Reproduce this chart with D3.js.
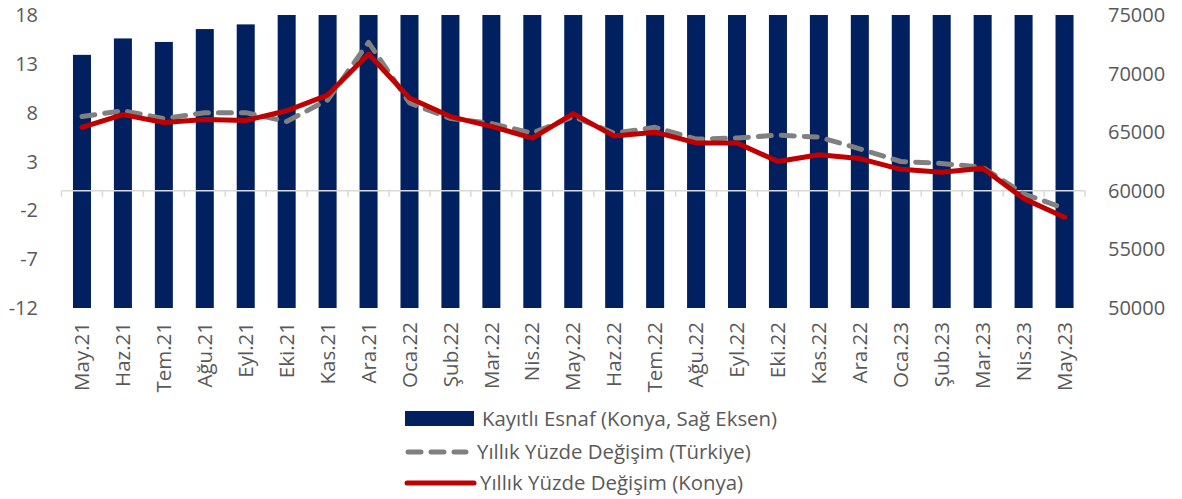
<!DOCTYPE html>
<html>
<head>
<meta charset="utf-8">
<script src="https://cdn.jsdelivr.net/npm/d3@7"></script>
<style>
  body { margin: 0; background: #fff; }
  text { font-family: "Open Sans", sans-serif; fill: #595959; }
</style>
</head>
<body>
<div id="chart"></div>
<script>
const months = ["May.21","Haz.21","Tem.21","Ağu.21","Eyl.21","Eki.21","Kas.21","Ara.21",
    "Oca.22","Şub.22","Mar.22","Nis.22","May.22","Haz.22","Tem.22","Ağu.22","Eyl.22",
    "Eki.22","Kas.22","Ara.22","Oca.23","Şub.23","Mar.23","Nis.23","May.23"];

// Kayıtlı esnaf (Konya) - right axis, values over 75000 are cut by the axis max
const esnaf = [71600, 73000, 72700, 73800, 74200, 75400, 75900, 76300,
    76600, 76900, 77200, 77500, 77800, 78000, 78300, 78500, 78700,
    78900, 79100, 79300, 79500, 79700, 79900, 80100, 80300];

const turkiye = [7.6, 8.2, 7.4, 8.0, 8.0, 7.1, 9.3, 15.2,
    9.0, 7.4, 6.9, 5.9, 7.6, 5.9, 6.5, 5.3, 5.4,
    5.7, 5.5, 4.3, 3.0, 2.8, 2.4, -0.3, -1.8];

const konya = [6.5, 7.8, 7.0, 7.3, 7.2, 8.2, 9.8, 14.0,
    9.5, 7.6, 6.6, 5.4, 7.9, 5.6, 6.0, 4.9, 4.9,
    3.0, 3.7, 3.3, 2.2, 1.9, 2.3, -0.8, -2.7];

const leftTicks = [18, 13, 8, 3, -2, -7, -12];
const rightTicks = [75000, 70000, 65000, 60000, 55000, 50000];

const width = 1182, height = 499;
const margin = {top: 15, right: 97, bottom: 191, left: 61.5};

const svg = d3.select("#chart").append("svg")
    .attr("width", width)
    .attr("height", height);

const x = d3.scaleBand()
    .domain(months)
    .range([margin.left, width - margin.right])
    .paddingInner(0.56)
    .paddingOuter(0.28);

const yL = d3.scaleLinear().domain([-12, 18]).range([height - margin.bottom, margin.top]);
const yR = d3.scaleLinear().domain([50000, 75000]).range([height - margin.bottom, margin.top]);

svg.append("clipPath").attr("id", "plot")
    .append("rect")
    .attr("x", margin.left).attr("y", margin.top)
    .attr("width", width - margin.right - margin.left)
    .attr("height", height - margin.bottom - margin.top);

// bars
svg.append("g")
    .attr("clip-path", "url(#plot)")
    .selectAll("rect")
    .data(esnaf)
    .enter()
    .append("rect")
    .attr("x", (d, i) => x(months[i]))
    .attr("y", d => yR(d))
    .attr("width", x.bandwidth())
    .attr("height", d => yR(50000) - yR(d))
    .attr("fill", "#002060");

// zero axis with category ticks
const x0 = margin.left, x1 = width - margin.right;
const zeroY = yL(0);
const axis = svg.append("g");
axis.append("line")
    .attr("x1", x0).attr("x2", x1)
    .attr("y1", zeroY).attr("y2", zeroY)
    .attr("stroke", "#d9d9d9").attr("stroke-width", 1.5);
axis.selectAll(".tk")
    .data(d3.range(months.length + 1))
    .enter()
    .append("line")
    .attr("x1", i => x0 + i * (x1 - x0) / months.length)
    .attr("x2", i => x0 + i * (x1 - x0) / months.length)
    .attr("y1", zeroY).attr("y2", zeroY + 6)
    .attr("stroke", "#d9d9d9").attr("stroke-width", 1.5);

// lines
const cx = i => x(months[i]) + x.bandwidth() / 2;

const lineT = d3.line().x((d, i) => cx(i)).y(d => yL(d));

svg.append("path")
    .datum(turkiye)
    .attr("d", lineT)
    .attr("fill", "none")
    .attr("stroke", "#808080")
    .attr("stroke-width", 5)
    .attr("stroke-dasharray", "13,10")
    .attr("stroke-linecap", "round")
    .attr("stroke-linejoin", "round");

svg.append("path")
    .datum(konya)
    .attr("d", lineT)
    .attr("fill", "none")
    .attr("stroke", "#c00000")
    .attr("stroke-width", 5)
    .attr("stroke-linecap", "round")
    .attr("stroke-linejoin", "round");

// left axis labels
svg.append("g").selectAll("text")
    .data(leftTicks)
    .enter()
    .append("text")
    .attr("x", 38)
    .attr("y", d => yL(d))
    .attr("dy", "0.35em")
    .attr("text-anchor", "end")
    .style("font-size", "20px")
    .text(d => d);

// right axis labels
svg.append("g").selectAll("text")
    .data(rightTicks)
    .enter()
    .append("text")
    .attr("x", 1108)
    .attr("y", d => yR(d))
    .attr("dy", "0.35em")
    .attr("text-anchor", "start")
    .style("font-size", "20px")
    .text(d => d);

// month labels
svg.append("g").selectAll("text")
    .data(months)
    .enter()
    .append("text")
    .attr("transform", d => `translate(${x(d) + x.bandwidth() / 2},322) rotate(-90)`)
    .attr("dy", "0.35em")
    .attr("text-anchor", "end")
    .style("font-size", "20.5px")
    .text(d => d);

// legend
const legend = svg.append("g");
legend.append("rect")
    .attr("x", 405).attr("y", 411)
    .attr("width", 69).attr("height", 15)
    .attr("fill", "#002060");
legend.append("text")
    .attr("x", 482).attr("y", 418.5).attr("dy", "0.35em")
    .style("font-size", "20.4px")
    .text("Kayıtlı Esnaf (Konya, Sağ Eksen)");

legend.append("line")
    .attr("x1", 408).attr("x2", 466)
    .attr("y1", 452).attr("y2", 452)
    .attr("stroke", "#808080").attr("stroke-width", 5)
    .attr("stroke-dasharray", "13,10")
    .attr("stroke-linecap", "round");
legend.append("text")
    .attr("x", 477).attr("y", 452).attr("dy", "0.35em")
    .style("font-size", "20.4px")
    .text("Yıllık Yüzde Değişim (Türkiye)");

legend.append("line")
    .attr("x1", 407).attr("x2", 474)
    .attr("y1", 483).attr("y2", 483)
    .attr("stroke", "#c00000").attr("stroke-width", 5)
    .attr("stroke-linecap", "round");
legend.append("text")
    .attr("x", 480).attr("y", 483).attr("dy", "0.35em")
    .style("font-size", "20.4px")
    .text("Yıllık Yüzde Değişim (Konya)");
</script>
</body>
</html>
